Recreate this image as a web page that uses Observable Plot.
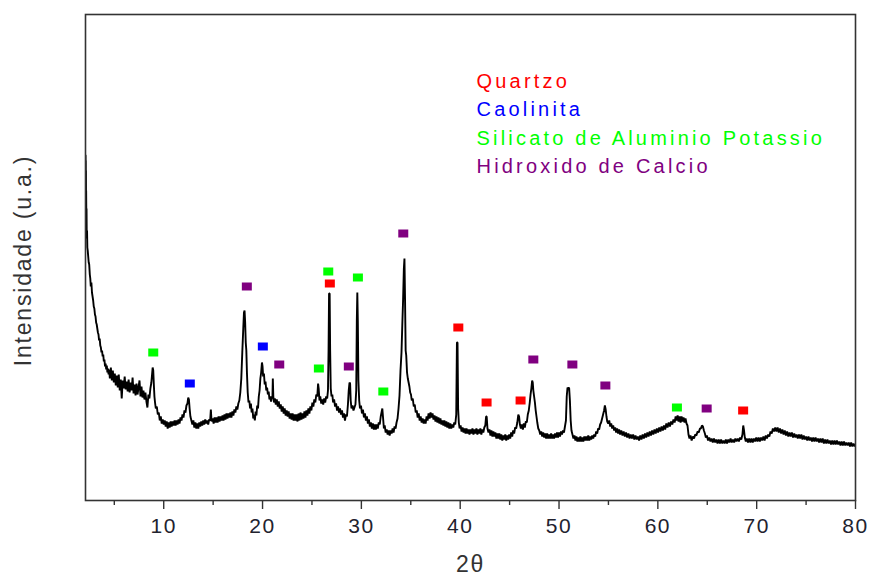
<!DOCTYPE html>
<html>
<head>
<meta charset="utf-8">
<script src="https://cdn.jsdelivr.net/npm/d3@7"></script>
<script src="https://cdn.jsdelivr.net/npm/@observablehq/plot@0.6"></script>
<style>
  html, body { margin: 0; padding: 0; background: #fff; }
  #chart svg { display: block; font-family: "Liberation Sans", Arial, sans-serif; }
  g[font-size="20"] text { letter-spacing: 3.2px; }
  g[font-size="23"] text { letter-spacing: 1.8px; }
  g[aria-label="x-axis tick label"] text { letter-spacing: 1.5px; }
</style>
</head>
<body>
<div id="chart"></div>
<script>
// XRD scan: [2θ (deg), intensity (a.u.)]
const xrdScan = [
[2.09,345],[2.1,300],[2.11,340],[2.12,290],[2.13,330],[2.14,284],[2.15,310],[2.17,283],[2.19,292],[2.21,262],[2.24,270],[2.27,253],[2.31,250],[2.36,244],[2.41,238],[2.46,236],[2.52,226],[2.57,222],[2.62,214],[2.68,218],[2.74,208],[2.8,204],[2.86,200],[2.92,194],[2.98,192],[3.04,186],[3.1,184],[3.16,178],[3.22,176],[3.28,172],[3.34,168],[3.4,166],[3.46,160],[3.52,162],[3.58,155],[3.64,153],[3.7,148],[3.76,150],[3.82,144],[3.88,146],[3.94,139],[4.0,141],[4.06,134],[4.12,137],[4.18,131],[4.24,135],[4.3,128],[4.36,132],[4.42,126],[4.48,131],
[4.55,122],[4.65,133],[4.75,120],[4.85,130],[4.95,118],[5.05,127],[5.15,115],[5.25,125],[5.35,113],[5.45,126],[5.55,110],[5.65,121],[5.75,102],[5.85,120],[5.95,112],[6.05,124],[6.15,111],[6.25,119],[6.35,109],[6.45,121],[6.55,108],[6.65,118],[6.75,110],[6.85,123],[6.95,107],[7.05,116],[7.15,105],[7.25,117],[7.35,106],[7.45,113],[7.55,120],[7.65,104],[7.75,114],[7.85,103],[7.95,110],[8.05,101],[8.15,108],[8.25,99],[8.35,93],[8.45,106],[8.55,102],[8.65,112],[8.75,118],[8.82,126],[8.88,133],[8.94,130],[9.0,116],[9.06,104],[9.12,98],[9.2,92],[9.3,94],[9.4,86],[9.5,88],[9.6,80],[9.7,84],[9.8,77],[9.9,81],[10.0,76],[10.1,80],[10.2,74],[10.3,79],[10.4,72],[10.5,78],[10.6,73],[10.7,79],[10.8,74],[10.9,79],[11.0,75],[11.1,80],[11.2,75],[11.3,80],[11.4,76],[11.5,81],[11.6,77],[11.7,83],[11.8,80],[11.9,86],[12.0,83],[12.1,90],[12.2,88],[12.3,95],[12.4,97],[12.48,103],[12.55,101],[12.62,92],[12.7,84],[12.8,80],[12.9,76],[13.0,80],[13.1,73],[13.2,78],[13.3,72],[13.4,77],[13.5,72],[13.6,78],[13.7,74],[13.8,79],[13.9,75],[14.0,80],[14.1,76],[14.2,81],[14.3,77],[14.4,80],[14.5,76],[14.6,81],[14.7,80],[14.77,91],[14.84,79],[14.95,82],[15.05,77],[15.15,83],[15.25,78],[15.35,83],[15.45,78],[15.55,84],[15.65,79],[15.75,84],[15.85,80],[15.95,85],[16.05,80],[16.15,86],[16.25,81],[16.35,87],[16.45,82],[16.55,87],[16.65,83],[16.75,88],[16.85,83],[16.95,89],[17.05,85],[17.15,91],[17.25,88],[17.35,94],[17.45,91],[17.55,97],[17.65,100],[17.75,108],[17.85,122],[17.95,148],[18.05,172],[18.12,188],[18.18,190],[18.24,178],[18.3,158],[18.36,150],[18.42,128],[18.5,108],[18.58,98],[18.66,100],[18.74,92],[18.82,97],[18.9,88],[18.98,92],[19.06,82],[19.14,86],[19.22,80],[19.3,89],[19.38,85],[19.46,95],[19.54,92],[19.62,104],[19.7,110],[19.78,122],[19.86,128],[19.94,138],[20.0,134],[20.06,124],[20.14,127],[20.22,116],[20.3,119],[20.38,110],[20.46,113],[20.54,106],[20.62,109],[20.7,101],[20.78,104],[20.86,99],[20.94,104],[21.0,102],[21.04,122],[21.09,104],[21.16,98],[21.24,102],[21.34,96],[21.44,101],[21.54,94],[21.64,99],[21.74,92],[21.84,96],[21.94,89],[22.04,94],[22.14,87],[22.24,92],[22.34,85],[22.44,90],[22.54,84],[22.64,89],[22.74,82],[22.84,87],[22.94,81],[23.04,87],[23.14,80],[23.24,86],[23.34,80],[23.44,86],[23.54,79],[23.64,87],[23.74,80],[23.84,88],[23.94,81],[24.04,87],[24.14,82],[24.24,89],[24.34,83],[24.44,90],[24.54,85],[24.64,92],[24.74,87],[24.84,94],[24.94,90],[25.04,98],[25.14,94],[25.24,101],[25.34,98],[25.44,106],[25.54,104],[25.62,117],[25.68,112],[25.76,100],[25.84,104],[25.94,97],[26.04,101],[26.14,96],[26.24,102],[26.34,98],[26.44,104],[26.54,102],[26.62,110],[26.68,150],[26.73,207],[26.79,207],[26.84,150],[26.9,112],[26.98,104],[27.06,106],[27.14,98],[27.24,101],[27.34,94],[27.44,97],[27.54,90],[27.64,94],[27.74,88],[27.84,92],[27.94,86],[28.04,90],[28.14,83],[28.24,87],[28.34,80],[28.44,86],[28.54,84],[28.64,96],[28.72,110],[28.8,118],[28.86,117],[28.92,100],[29.0,92],[29.1,95],[29.2,90],[29.3,93],[29.4,96],[29.48,110],[29.54,180],[29.59,208],[29.64,180],[29.7,120],[29.78,100],[29.86,92],[29.96,95],[30.06,87],[30.16,91],[30.26,83],[30.36,87],[30.46,80],[30.56,84],[30.66,77],[30.76,81],[30.86,74],[30.96,78],[31.06,72],[31.16,77],[31.26,71],[31.36,76],[31.46,71],[31.56,76],[31.66,72],[31.76,78],[31.86,76],[31.96,84],[32.04,88],[32.12,92],[32.2,82],[32.28,72],[32.36,75],[32.46,68],[32.56,71],[32.66,66],[32.76,70],[32.86,65],[32.96,70],[33.06,67],[33.16,72],[33.26,68],[33.36,74],[33.46,72],[33.56,78],[33.66,82],[33.76,92],[33.86,105],[33.96,130],[34.06,148],[34.14,175],[34.22,200],[34.3,232],[34.36,242],[34.42,200],[34.48,150],[34.54,145],[34.62,128],[34.7,122],[34.78,118],[34.86,114],[34.94,108],[35.02,106],[35.1,100],[35.2,102],[35.3,94],[35.4,96],[35.5,88],[35.6,90],[35.7,83],[35.8,87],[35.9,80],[36.0,84],[36.1,78],[36.2,82],[36.3,77],[36.4,81],[36.5,77],[36.6,84],[36.7,80],[36.8,87],[36.9,82],[37.0,88],[37.1,83],[37.2,87],[37.3,81],[37.4,85],[37.5,79],[37.6,84],[37.7,78],[37.8,83],[37.9,77],[38.0,82],[38.1,76],[38.2,80],[38.3,75],[38.4,80],[38.5,74],[38.6,79],[38.7,73],[38.8,78],[38.9,72],[39.0,77],[39.1,72],[39.2,76],[39.3,73],[39.4,78],[39.5,76],[39.6,86],[39.67,158],[39.73,158],[39.79,92],[39.86,78],[39.94,72],
[40.04,75],[40.14,69],[40.24,73],[40.34,68],[40.44,72],[40.54,67],[40.64,72],[40.74,67],[40.84,71],[40.94,66],[41.04,71],[41.14,67],[41.24,72],[41.34,66],[41.44,71],[41.54,67],[41.64,72],[41.74,66],[41.84,71],[41.94,67],[42.04,72],[42.14,66],[42.24,71],[42.34,68],[42.44,73],[42.54,75],[42.62,84],[42.68,84],[42.76,72],[42.86,68],[42.96,71],[43.06,65],[43.16,70],[43.26,64],[43.36,69],[43.46,64],[43.56,68],[43.66,62],[43.76,67],[43.86,62],[43.96,67],[44.06,61],[44.16,66],[44.26,60],[44.36,65],[44.46,61],[44.56,66],[44.66,60],[44.76,65],[44.86,61],[44.96,66],[45.06,62],[45.16,68],[45.26,64],[45.36,70],[45.46,67],[45.56,73],[45.66,72],[45.78,78],[45.88,86],[45.96,84],[46.04,76],[46.14,72],[46.24,76],[46.34,71],[46.44,77],[46.54,73],[46.64,79],[46.74,78],[46.84,86],[46.94,90],[47.04,98],[47.12,106],[47.2,112],[47.28,120],[47.34,118],[47.4,110],[47.48,104],[47.56,98],[47.64,90],[47.72,84],[47.8,78],[47.9,72],[48.0,70],[48.1,66],[48.2,69],[48.3,64],[48.4,68],[48.5,63],[48.6,67],[48.7,62],[48.8,67],[48.9,62],[49.0,66],[49.1,62],[49.2,67],[49.3,62],[49.4,66],[49.5,62],[49.6,67],[49.7,63],[49.8,68],[49.9,63],[50.0,68],[50.1,64],[50.2,69],[50.3,66],[50.4,70],[50.5,68],[50.6,74],[50.7,80],[50.78,104],[50.86,113],[50.94,112],[51.02,113],[51.1,100],[51.18,80],[51.26,70],[51.36,66],[51.46,62],[51.56,65],[51.66,60],[51.76,64],[51.86,59],[51.96,63],[52.06,59],[52.16,64],[52.26,59],[52.36,63],[52.46,59],[52.56,64],[52.66,60],[52.76,64],[52.86,60],[52.96,65],[53.06,60],[53.16,64],[53.26,61],[53.36,65],[53.46,62],[53.56,66],[53.66,64],[53.76,69],[53.86,67],[53.96,72],[54.06,71],[54.16,76],[54.26,78],[54.36,82],[54.46,86],[54.56,90],[54.64,95],[54.72,91],[54.8,84],[54.88,79],[54.98,77],[55.08,80],[55.18,74],[55.28,77],[55.38,72],[55.48,75],[55.58,70],[55.68,73],[55.78,68],[55.88,72],[55.98,67],[56.08,71],[56.18,66],[56.3,70],[56.42,65],[56.54,69],[56.66,64],[56.78,68],[56.9,63],[57.02,67],[57.14,62],[57.26,66],[57.38,62],[57.5,66],[57.62,61],[57.74,65],[57.86,61],[57.98,64],[58.1,60],[58.22,65],[58.34,61],[58.46,66],[58.58,62],[58.7,67],[58.82,63],[58.94,68],[59.06,64],[59.18,69],[59.3,65],[59.42,70],[59.54,66],[59.66,71],[59.78,67],[59.9,72],
[60.02,68],[60.14,73],[60.26,69],[60.38,74],[60.5,70],[60.62,75],[60.74,71],[60.86,77],[60.98,73],[61.1,78],[61.22,74],[61.34,79],[61.46,76],[61.58,81],[61.7,78],[61.8,84],[61.9,80],[62.0,85],[62.1,79],[62.2,84],[62.3,78],[62.4,84],[62.5,79],[62.6,83],[62.7,78],[62.8,82],[62.9,77],[63.0,75],[63.1,66],[63.2,62],[63.3,65],[63.42,60],[63.54,64],[63.66,62],[63.78,66],[63.9,65],[64.02,69],[64.14,68],[64.26,72],[64.36,72],[64.46,75],[64.56,74],[64.66,70],[64.76,67],[64.86,63],[64.96,65],[65.08,60],[65.2,63],[65.32,59],[65.44,62],[65.56,58],[65.68,62],[65.8,58],[65.92,61],[66.04,57],[66.16,61],[66.28,57],[66.4,61],[66.52,57],[66.64,60],[66.76,57],[66.88,61],[67.0,57],[67.12,61],[67.24,58],[67.36,62],[67.48,58],[67.6,61],[67.72,58],[67.84,62],[67.96,59],[68.08,62],[68.2,59],[68.32,63],[68.44,61],[68.56,66],[68.64,75],[68.72,70],[68.8,63],[68.9,59],[69.0,62],[69.12,58],[69.24,62],[69.36,58],[69.48,62],[69.6,58],[69.72,62],[69.84,59],[69.96,63],[70.08,59],[70.2,63],[70.32,59],[70.44,63],[70.56,60],[70.68,64],[70.8,60],[70.92,65],[71.04,62],[71.16,66],[71.28,64],[71.4,69],[71.52,67],[71.64,72],[71.76,69],[71.88,73],[72.0,69],[72.12,73],[72.24,68],[72.36,72],[72.48,67],[72.6,71],[72.72,66],[72.84,70],[72.96,65],[73.08,69],[73.2,64],[73.32,68],[73.44,64],[73.56,68],[73.68,63],[73.8,67],[73.92,63],[74.04,66],[74.16,62],[74.28,66],[74.4,62],[74.52,66],[74.64,61],[74.76,65],[74.88,61],[75.0,64],[75.12,60],[75.24,64],[75.36,60],[75.48,63],[75.6,59],[75.72,63],[75.84,59],[75.96,63],[76.08,59],[76.2,62],[76.32,58],[76.44,62],[76.56,58],[76.68,62],[76.8,57],[76.92,61],[77.04,57],[77.16,61],[77.28,57],[77.4,60],[77.52,56],[77.64,60],[77.76,56],[77.88,60],[78.0,56],[78.12,60],[78.24,56],[78.36,59],[78.48,55],[78.6,59],[78.72,55],[78.84,59],[78.96,55],[79.08,58],[79.2,55],[79.32,58],[79.44,54],[79.56,58],[79.68,54],[79.8,57],[79.92,54],[80.0,56]
];

// Phase identification markers
const phases = ["Quartzo", "Caolinita", "Silicato de Aluminio Potassio", "Hidroxido de Calcio"];
const phaseColors = ["#ff0000", "#0000ff", "#00ff00", "#800080"];
const markerPhase = [
  "Silicato de Aluminio Potassio", "Caolinita", "Hidroxido de Calcio", "Caolinita", "Hidroxido de Calcio",
  "Silicato de Aluminio Potassio", "Silicato de Aluminio Potassio", "Quartzo", "Hidroxido de Calcio",
  "Silicato de Aluminio Potassio", "Silicato de Aluminio Potassio", "Hidroxido de Calcio", "Quartzo",
  "Quartzo", "Quartzo", "Hidroxido de Calcio", "Hidroxido de Calcio", "Hidroxido de Calcio",
  "Silicato de Aluminio Potassio", "Hidroxido de Calcio", "Quartzo"
];
const markerTheta = [8.94, 12.64, 18.41, 20.03, 21.69, 25.70, 26.65, 26.81, 28.73, 29.65, 32.22, 34.24, 39.81, 42.67, 46.11, 47.40, 51.35, 54.69, 61.93, 64.94, 68.63];
const markerLevel = [148, 117, 214, 154, 136, 132, 229, 217, 134, 223, 109, 267, 173, 98, 100, 141, 136, 115, 93, 92, 90];

const majorTicks = [10, 20, 30, 40, 50, 60, 70, 80];
const minorTicks = [5, 15, 25, 35, 45, 55, 65, 75];

const scan = xrdScan.map(([t, i]) => ({theta: t, intensity: i}));
const markers = markerTheta.map((t, k) => ({theta: t, level: markerLevel[k], phase: markerPhase[k]}));

const rectSymbol = {draw(context) { context.rect(-5, -4, 10, 8); }};

const plot = Plot.plot({
  width: 869,
  height: 577,
  marginLeft: 85,
  marginRight: 14,
  marginTop: 14,
  marginBottom: 77,
  style: {fontFamily: "Liberation Sans, Arial, sans-serif", background: "#fff", color: "#222"},
  x: {domain: [2.085, 80]},
  y: {domain: [0, 486], axis: null},
  color: {domain: phases, range: phaseColors},
  marks: [
    Plot.line(scan, {x: "theta", y: "intensity", stroke: "#000", strokeWidth: 1.9, strokeLinejoin: "miter", clip: true}),
    Plot.dot(markers, {x: "theta", y: "level", fill: "phase", stroke: "none", symbol: rectSymbol}),
    Plot.axisX({ticks: minorTicks, tickSize: 5, text: null, label: null, stroke: "#333", strokeWidth: 1.4}),
    Plot.axisX({ticks: majorTicks, tickSize: 9, tickPadding: 9, fontSize: 21, stroke: "#333", strokeWidth: 1.4, fill: "#22222e", label: null}),
    Plot.frame({stroke: "#333", strokeWidth: 1.6}),
    ...phases.map((p, k) => Plot.text([p], {
      frameAnchor: "top-left", dx: 391, dy: [73, 101.5, 130, 158.5][k],
      text: d => d, fill: phaseColors[k], fontSize: 20, textAnchor: "start", lineAnchor: "bottom"
    })),
    Plot.text(["Intensidade (u.a.)"], {frameAnchor: "left", dx: -62, dy: 3, rotate: -90, text: d => d, fontSize: 23, fill: "#333", textAnchor: "middle", lineAnchor: "middle"}),
    Plot.text(["2θ"], {frameAnchor: "bottom", dy: 64, text: d => d, fontSize: 23, fill: "#333", textAnchor: "middle", lineAnchor: "middle"})
  ]
});
document.getElementById("chart").appendChild(plot);
</script>
</body>
</html>
